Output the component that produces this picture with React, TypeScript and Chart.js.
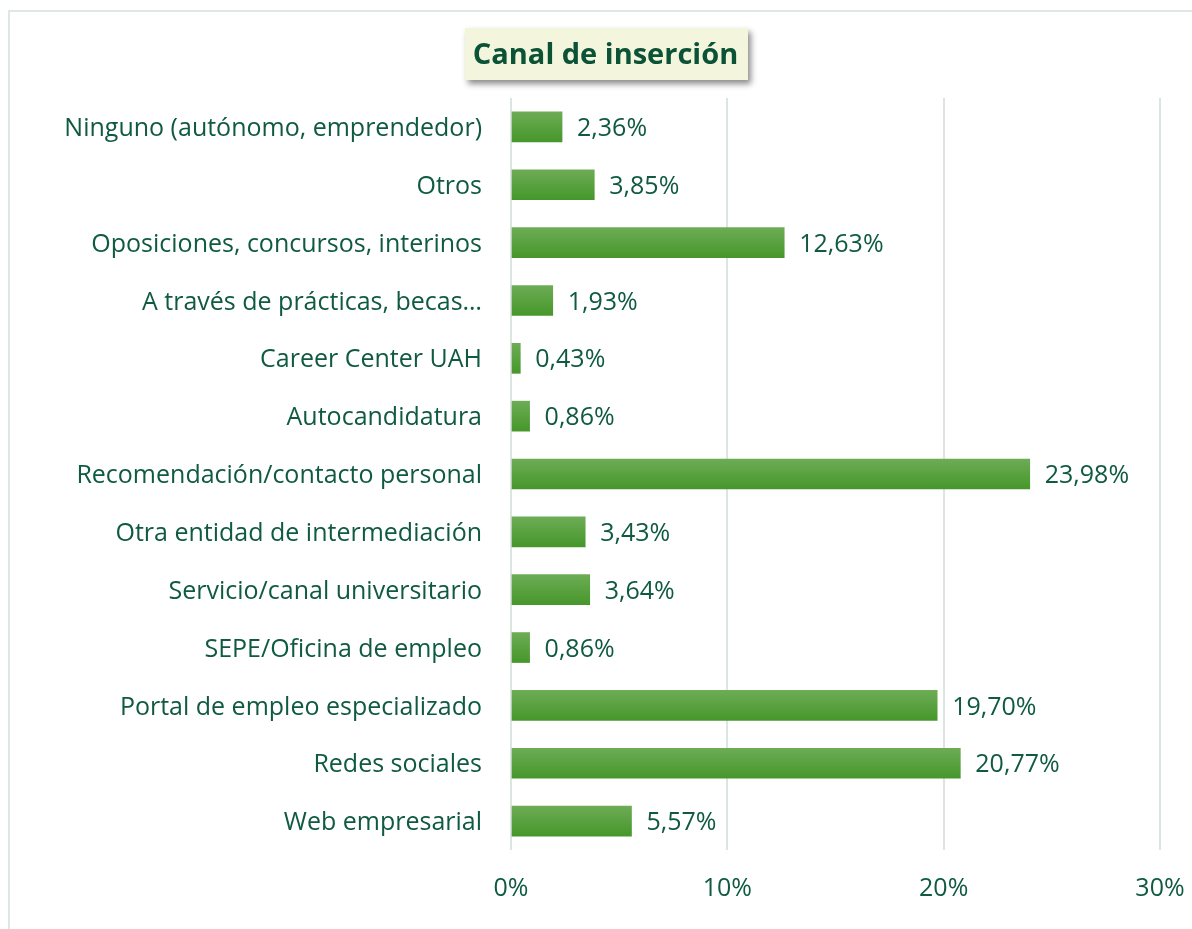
import React, { useEffect, useRef } from "react";
import { Chart, registerables } from "chart.js";

Chart.register(...registerables);

const categories = [
  "Ninguno (autónomo, emprendedor)",
  "Otros",
  "Oposiciones, concursos, interinos",
  "A través de prácticas, becas…",
  "Career Center UAH",
  "Autocandidatura",
  "Recomendación/contacto personal",
  "Otra entidad de intermediación",
  "Servicio/canal universitario",
  "SEPE/Oficina de empleo",
  "Portal de empleo especializado",
  "Redes sociales",
  "Web empresarial",
];
const values = [2.36, 3.85, 12.63, 1.93, 0.43, 0.86, 23.98, 3.43, 3.64, 0.86, 19.7, 20.77, 5.57];
const xTicks = [0, 10, 20, 30];
const titleText = "Canal de inserción";

const FONT = "'Open Sans', 'Noto Sans', sans-serif";
const FS = 25;
const TEXT_COLOR = "#0f5a40";
const BAR_H = 30;

const fmt = (v: number) => v.toFixed(2).replace(".", ",") + "%";

export default function App() {
  const ref = useRef<HTMLCanvasElement | null>(null);

  useEffect(() => {
    document.body.style.margin = "0";
    const canvas = ref.current!;
    const decor = {
      id: "decor",
      beforeDraw(chart: any) {
        const ctx = chart.ctx;
        ctx.save();
        ctx.strokeStyle = "#dfe7e4";
        ctx.lineWidth = 2;
        ctx.beginPath();
        ctx.moveTo(9, 929);
        ctx.lineTo(9, 11);
        ctx.lineTo(1192, 11);
        ctx.stroke();
        ctx.restore();
      },
      afterDatasetsDraw(chart: any) {
        const ctx = chart.ctx;
        const meta = chart.getDatasetMeta(0);
        ctx.save();
        ctx.font = `${FS}px ${FONT}`;
        ctx.fillStyle = TEXT_COLOR;
        ctx.textBaseline = "middle";
        ctx.textAlign = "left";
        meta.data.forEach((bar: any, i: number) => {
          ctx.fillText(fmt(values[i]), bar.x + 15, bar.y + 2);
        });
        ctx.restore();
      },
      afterDraw(chart: any) {
        const ctx = chart.ctx;
        ctx.save();
        const x = 465, y = 28, w = 283, h = 52;
        ctx.shadowColor = "rgba(0,0,0,0.45)";
        ctx.shadowBlur = 6;
        ctx.shadowOffsetX = 3;
        ctx.shadowOffsetY = 4;
        ctx.fillStyle = "#f3f5dd";
        ctx.fillRect(x, y, w, h);
        ctx.shadowColor = "transparent";
        ctx.font = `bold 29px ${FONT}`;
        ctx.fillStyle = "#0b5236";
        ctx.textAlign = "center";
        ctx.textBaseline = "middle";
        ctx.fillText(titleText, x + w / 2 - 1, y + h / 2 + 2);
        ctx.restore();
      },
    };

    const chart = new Chart(canvas, {
      type: "bar",
      data: {
        labels: categories,
        datasets: [
          {
            data: values,
            barThickness: BAR_H,
            backgroundColor: (c: any) => {
              const ch = c.chart;
              const ys = ch.scales && ch.scales.y;
              if (!ys || c.dataIndex === undefined) return "#5aa23e";
              const yc = ys.getPixelForValue(c.dataIndex);
              if (!isFinite(yc)) return "#5aa23e";
              const g = ch.ctx.createLinearGradient(0, yc - BAR_H / 2, 0, yc + BAR_H / 2);
              g.addColorStop(0, "#6dac55");
              g.addColorStop(1, "#46972b");
              return g;
            },
            borderWidth: 0,
          },
        ],
      },
      options: {
        indexAxis: "y",
        animation: false,
        responsive: false,
        layout: { padding: { top: 98, right: 32, left: 0, bottom: 0 } },
        plugins: {
          legend: { display: false },
          tooltip: { enabled: false },
          title: { display: false },
        },
        scales: {
          x: {
            min: 0,
            max: 30,
            afterBuildTicks: (s: any) => {
              s.ticks = xTicks.map((v) => ({ value: v }));
            },
            afterFit: (s: any) => {
              s.height = 79;
              s.paddingLeft = 0;
              s.paddingRight = 0;
            },
            grid: { color: "#dde5e2", lineWidth: 2, drawTicks: false },
            border: { display: false },
            ticks: {
              padding: 24,
              color: TEXT_COLOR,
              font: { family: FONT, size: FS },
              callback: (v: any) => v + "%",
            },
          },
          y: {
            afterFit: (s: any) => {
              s.width = 511;
            },
            grid: { display: false, drawTicks: false },
            border: { display: false },
            ticks: {
              padding: 29,
              labelOffset: 2,
              color: TEXT_COLOR,
              font: { family: FONT, size: FS },
            },
          },
        },
      },
      plugins: [decor],
    } as any);
    return () => chart.destroy();
  }, []);

  return (
    <div style={{ width: 1192, height: 929 }}>
      <canvas ref={ref} width={1192} height={929} style={{ display: "block" }} />
    </div>
  );
}
